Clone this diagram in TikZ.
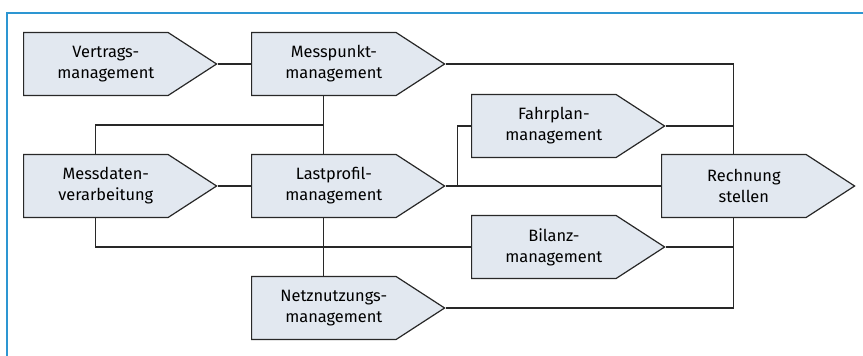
\documentclass[tikz,border=0pt]{standalone}
\usepackage{fontspec}
\setmainfont{Fira Sans}
\usetikzlibrary{shapes.symbols,calc}

\definecolor{frameblue}{RGB}{45,150,210}
\definecolor{boxfill}{RGB}{226,232,240}
\definecolor{linegray}{RGB}{40,40,40}

\tikzset{
  task/.style={signal, signal to=east, signal pointer angle=66,
    draw=linegray, fill=boxfill, line width=0.9pt,
    minimum width=144.75pt, minimum height=47.25pt, inner sep=0pt,
    text width=108pt, align=center, anchor=west,
    execute at begin node={\leftskip=15pt plus 1fil\rightskip=0pt plus 1fil\parfillskip=0pt},
    font=\fontsize{12.3}{15.75}\selectfont},
  link/.style={draw=linegray, line width=0.9pt},
}

\begin{document}
\begin{tikzpicture}[x=0.75pt,y=-0.75pt]

\useasboundingbox (0,0) rectangle (863,356);
\draw[frameblue, line width=1.6pt] (7,356) -- (7,13) -- (863,13);

\node[task] (vm) at (23,64) {Vertrags-\\management};
\node[task] (mp) at (251,64) {Messpunkt-\\management};
\node[task] (md) at (23,186) {Messdaten-\\verarbeitung};
\node[task] (lp) at (251,186) {Lastprofil-\\management};
\node[task] (nn) at (251,308) {Netznutzungs-\\management};
\node[task] (fp) at (471,126) {Fahrplan-\\management};
\node[task] (bm) at (471,247) {Bilanz-\\management};
\node[task] (rs) at (661,186) {Rechnung\\stellen};

% middle of the box bodies
\coordinate (mp-s) at ($(mp.south west)!.5!(mp.south east)$);
\coordinate (lp-n) at ($(lp.north west)!.5!(lp.north east)$);
\coordinate (lp-s) at ($(lp.south west)!.5!(lp.south east)$);
\coordinate (md-n) at ($(md.north west)!.5!(md.north east)$);
\coordinate (md-s) at ($(md.south west)!.5!(md.south east)$);
\coordinate (nn-n) at ($(nn.north west)!.5!(nn.north east)$);
\coordinate (rs-n) at ($(rs.north west)!.5!(rs.north east)$);
\coordinate (rs-s) at ($(rs.south west)!.5!(rs.south east)$);
\coordinate (split1) at ($(mp-s)!.5!(lp-n)$);
\coordinate (split2) at ($(lp.east)+(12,0)$);

\draw[link] (vm.east) -- (mp.west);
\draw[link] (mp.east) -| (rs-n);
\draw[link] (mp-s) -- (lp-n);
\draw[link] (split1) -| (md-n);
\draw[link] (md.east) -- (lp.west);
\draw[link] (lp.east) -- (rs.west);
\draw[link] (split2) |- (fp.west);
\draw[link] (fp.east) -- (fp.east -| rs-n);
\draw[link] (md-s) |- (bm.west);
\draw[link] (lp-s) -- (nn-n);
\draw[link] (bm.east) -- (bm.east -| rs-s);
\draw[link] (rs-s) |- (nn.east);

\end{tikzpicture}
\end{document}
